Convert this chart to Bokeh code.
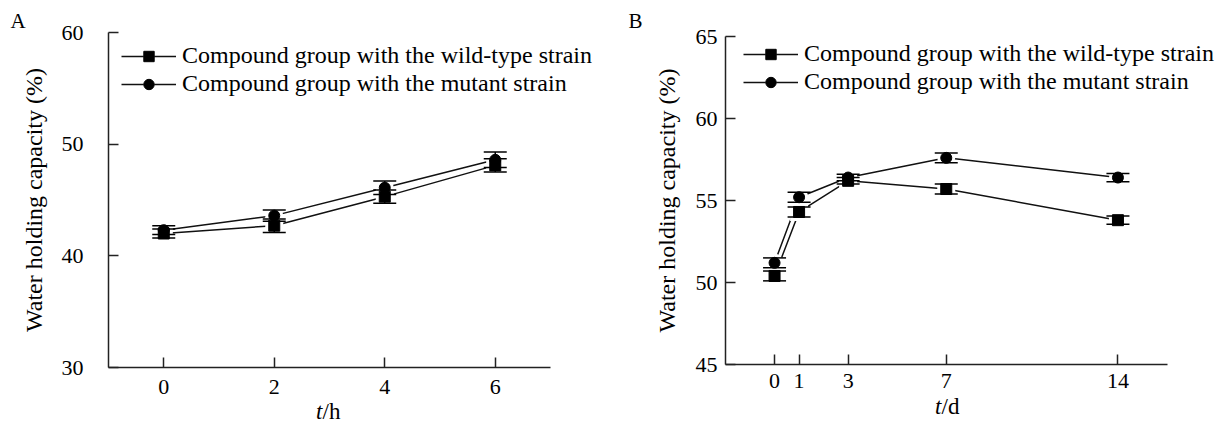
from bokeh.plotting import figure
from bokeh.layouts import row
from bokeh.models import (ColumnDataSource, Whisker, TeeHead, Legend, LegendItem,
                          Label, FixedTicker)
from bokeh.embed import file_html
from bokeh.resources import INLINE

# ---------------- data ----------------
time_h = [0, 2, 4, 6]
wild_A = [42.0, 42.7, 45.3, 48.1]
wild_A_err = [0.4, 0.6, 0.6, 0.6]
mut_A = [42.3, 43.6, 46.1, 48.6]
mut_A_err = [0.4, 0.5, 0.6, 0.7]

time_d = [0, 1, 3, 7, 14]
wild_B = [50.4, 54.3, 56.2, 55.7, 53.8]
wild_B_err = [0.3, 0.3, 0.2, 0.3, 0.25]
mut_B = [51.2, 55.2, 56.4, 57.6, 56.4]
mut_B_err = [0.3, 0.3, 0.2, 0.3, 0.25]

ticks_A_x = [0, 2, 4, 6]
ticks_A_y = [30, 40, 50, 60]
ticks_B_x = [0, 1, 3, 7, 14]
ticks_B_y = [45, 50, 55, 60, 65]

label_wild = "Compound group with the wild-type strain"
label_mut = "Compound group with the mutant strain"
y_title = "Water holding capacity (%)"

FONT = "Liberation Serif"
H = 425


class Frame:
    """Maps canvas pixels of a panel to data units (frame = whole panel)."""

    def __init__(self, width, xb, yb, px_x, px_y):
        self.w = width
        (x0, x1), (y0, y1) = xb, yb
        (l, r), (b, t) = px_x, px_y
        self.sx = (r - l) / (x1 - x0)
        self.sy = (b - t) / (y1 - y0)
        self.x0, self.l, self.y0, self.b = x0, l, y0, b
        self.xr = (self.dx(0), self.dx(width))
        self.yr = (self.dy(H), self.dy(0))

    def dx(self, px):
        return self.x0 + (px - self.l) / self.sx

    def dy(self, py):
        return self.y0 + (self.b - py) / self.sy


def build(fr, xb, yb, xs, wild, wild_err, mut, mut_err, xt, yt,
          ystand, ylabstand, xstand, legend_loc):
    p = figure(width=fr.w, height=H, x_range=fr.xr, y_range=fr.yr,
               output_backend="svg", toolbar_location=None,
               min_border=0, background_fill_color="white",
               border_fill_color="white")
    p.outline_line_color = None
    p.xgrid.visible = False
    p.ygrid.visible = False

    p.xaxis.ticker = FixedTicker(ticks=xt)
    p.yaxis.ticker = FixedTicker(ticks=yt)
    p.xaxis.bounds = xb
    p.yaxis.bounds = yb
    p.xaxis.fixed_location = yb[0]
    p.yaxis.fixed_location = xb[0]
    for ax in (p.xaxis[0], p.yaxis[0]):
        ax.major_tick_in = 10
        ax.major_tick_out = 0
        ax.minor_tick_in = 0
        ax.minor_tick_out = 0
        ax.axis_line_width = 1.5
        ax.major_tick_line_width = 1.5
        ax.axis_line_color = "#222222"
        ax.major_tick_line_color = "#222222"
        ax.major_label_text_font = FONT
        ax.major_label_text_font_size = "22px"
        ax.major_label_text_color = "black"
    p.xaxis.major_label_standoff = xstand
    p.yaxis.major_label_standoff = ystand
    p.yaxis.axis_label = y_title
    p.yaxis.axis_label_text_font = FONT
    p.yaxis.axis_label_text_font_size = "24px"
    p.yaxis.axis_label_text_font_style = "normal"
    p.yaxis.axis_label_text_color = "black"
    p.yaxis.axis_label_standoff = ylabstand

    srcs = []
    for ys, errs in ((wild, wild_err), (mut, mut_err)):
        srcs.append(ColumnDataSource(dict(
            x=xs, y=ys,
            upper=[a + b for a, b in zip(ys, errs)],
            lower=[a - b for a, b in zip(ys, errs)])))
    markers = ["square", "circle"]
    lines = [p.line("x", "y", source=s, line_color="#111111", line_width=1.5)
             for s in srcs]
    # white gaps around the symbols
    halos = [p.scatter("x", "y", source=s, marker=m, size=18,
                       fill_color="white", line_color=None)
             for s, m in zip(srcs, markers)]
    pts = []
    for s, m in zip(srcs, markers):
        pts.append(p.scatter("x", "y", source=s, marker=m, size=11,
                             fill_color="black", line_color="black"))
    for s in srcs:
        p.add_layout(Whisker(base="x", upper="upper", lower="lower", source=s,
                             level="annotation",
                             line_color="black", line_width=1.5,
                             upper_head=TeeHead(size=23, line_width=1.5,
                                                line_color="black"),
                             lower_head=TeeHead(size=23, line_width=1.5,
                                                line_color="black")))

    leg = Legend(items=[LegendItem(label=label_wild,
                                   renderers=[lines[0], halos[0], pts[0]]),
                        LegendItem(label=label_mut,
                                   renderers=[lines[1], halos[1], pts[1]])],
                 location=legend_loc, label_text_font=FONT,
                 label_text_font_size="24px", label_text_color="black",
                 glyph_width=55, glyph_height=26, label_height=26,
                 label_standoff=6, spacing=1, padding=0, margin=0,
                 background_fill_alpha=0, border_line_color=None)
    p.add_layout(leg)
    return p


def text(p, fr, px, py, s, align="left", style="normal", size="22px",
         baseline="middle"):
    p.add_layout(Label(x=fr.dx(px), y=fr.dy(py), text=s, text_font=FONT,
                       text_font_style=style, text_font_size=size,
                       text_align=align, text_baseline=baseline,
                       text_color="black"))


xbA, ybA = (-1, 7), (30, 60)
xbB, ybB = (-2, 16), (45, 65)
frA = Frame(610, xbA, ybA, (108, 550), (367, 32))
frB = Frame(615, xbB, ybB, (115, 556.5), (364, 36))

pA = build(frA, xbA, ybA, time_h, wild_A, wild_A_err, mut_A, mut_A_err,
           ticks_A_x, ticks_A_y, 25, 12, 12, (121, 328))
pB = build(frB, xbB, ybB, time_d, wild_B, wild_B_err, mut_B, mut_B_err,
           ticks_B_x, ticks_B_y, 8, 13, 9, (133, 330))

# panel letters
text(pA, frA, 10, 20, "A", size="21px")
text(pB, frB, 18, 20, "B", size="21px")
# x-axis titles: italic variable + upright unit
text(pA, frA, 322, 411, "t", align="right", style="italic", size="23px")
text(pA, frA, 322, 411, "/h", size="23px")
text(pB, frB, 331, 406, "t", align="right", style="italic", size="23px")
text(pB, frB, 331, 406, "/d", size="23px")

layout = row(pA, pB)
open("out.html", "w").write(file_html(layout, INLINE))
